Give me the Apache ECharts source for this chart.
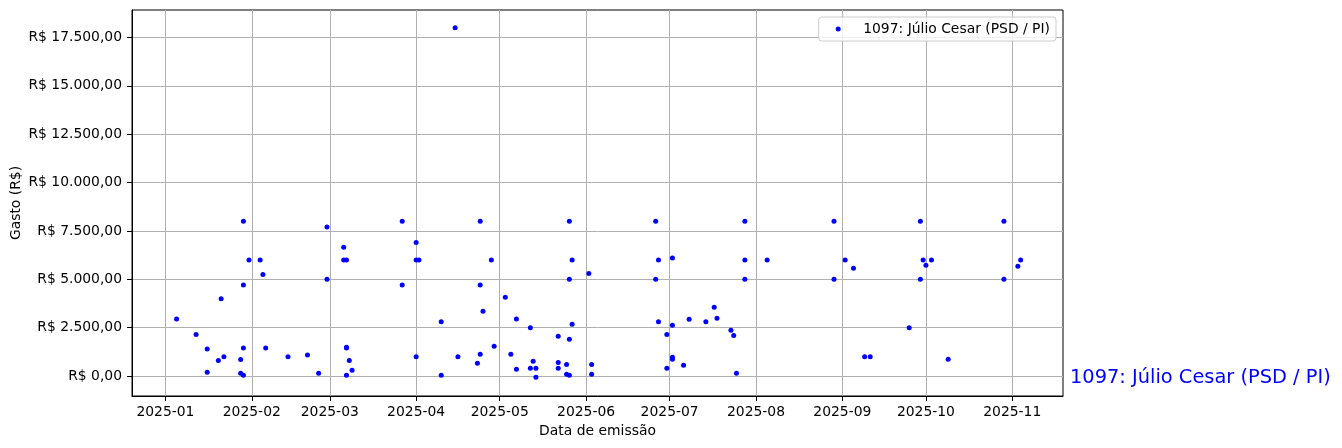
<!DOCTYPE html>
<html>
<head>
<meta charset="utf-8">
<script src="https://cdn.jsdelivr.net/npm/echarts@6/dist/echarts.min.js"></script>
<style>
html,body{margin:0;padding:0;background:#fff;}
#chart{width:1342px;height:448px;}
</style>
</head>
<body>
<div id="chart"></div>
<script>
// ---- data ----
const seriesName = '1097: Júlio Cesar (PSD / PI)';
const dates = [
 '2025-01-05','2025-01-12','2025-01-16','2025-01-16','2025-01-20','2025-01-22','2025-01-21','2025-01-28','2025-01-28','2025-01-29',
 '2025-01-29','2025-01-29','2025-01-29','2025-01-31','2025-02-04','2025-02-05','2025-02-06','2025-02-14','2025-02-21','2025-02-25',
 '2025-02-28','2025-02-28','2025-03-06','2025-03-06','2025-03-07','2025-03-07','2025-03-07','2025-03-07','2025-03-08','2025-03-09',
 '2025-03-27','2025-03-27','2025-04-01','2025-04-02','2025-04-01','2025-04-01','2025-04-10','2025-04-10','2025-04-15','2025-04-16',
 '2025-04-23','2025-04-24','2025-04-24','2025-04-24','2025-04-25','2025-04-28','2025-04-29','2025-05-03','2025-05-05','2025-05-07',
 '2025-05-07','2025-05-12','2025-05-12','2025-05-13','2025-05-14','2025-05-14','2025-05-22','2025-05-22','2025-05-22','2025-05-25',
 '2025-05-25','2025-05-26','2025-05-26','2025-05-26','2025-05-26','2025-05-27','2025-05-27','2025-06-02','2025-06-03','2025-06-03',
 '2025-06-26','2025-06-26','2025-06-27','2025-06-27','2025-06-30','2025-06-30','2025-07-02','2025-07-02','2025-07-02','2025-07-02',
 '2025-07-06','2025-07-08','2025-07-14','2025-07-17','2025-07-18','2025-07-23','2025-07-24','2025-07-25','2025-07-28','2025-07-28',
 '2025-07-28','2025-08-05','2025-08-29','2025-08-29','2025-09-02','2025-09-05','2025-09-09','2025-09-11','2025-09-25','2025-09-29',
 '2025-09-29','2025-09-30','2025-10-01','2025-10-03','2025-10-09','2025-10-29','2025-10-29','2025-11-04','2025-11-03'
];
const values = [
 2950,2150,1400,200,800,1000,4000,850,140,8000,
 4700,1450,40,6000,6000,5250,1450,1000,1080,140,
 7700,5000,6000,6650,6000,1480,1450,40,800,300,
 8000,4700,6000,6000,6900,1000,2800,40,18000,1000,
 660,8000,4700,1120,3350,6000,1540,4070,1120,2950,
 350,2500,400,760,400,-60,2050,700,400,600,
 90,8000,5000,1900,40,6000,2680,5300,600,90,
 8000,5000,6000,2800,2150,400,6100,2620,970,860,
 550,2930,2800,3550,2980,2360,2100,140,8000,6000,
 5000,6000,8000,5000,6000,5570,1000,1000,2500,8000,
 5000,6000,5720,6000,860,8000,5000,6000,5670
];
const xTickDates = ['2025-01-01','2025-02-01','2025-03-01','2025-04-01','2025-05-01','2025-06-01',
                    '2025-07-01','2025-08-01','2025-09-01','2025-10-01','2025-11-01'];
const yTicks = [0,2500,5000,7500,10000,12500,15000,17500];

// ---- helpers ----
function parseDay(s){ const p = s.split('-').map(Number); return new Date(p[0], p[1]-1, p[2]).getTime(); }
function brl(v){
  const neg = v < 0; const parts = Math.abs(v).toFixed(2).split('.');
  const intPart = parts[0].replace(/\B(?=(\d{3})+(?!\d))/g, '.');
  return 'R$ ' + (neg ? '-' : '') + intPart + ',' + parts[1];
}
function ym(t){ const d = new Date(t); return d.getFullYear() + '-' + String(d.getMonth()+1).padStart(2,'0'); }

const points = dates.map((d,i) => [parseDay(d), values[i]]);
const xTicks = xTickDates.map(parseDay);

const FONT = 'DejaVu Sans';
const chart = echarts.init(document.getElementById('chart'), null, {renderer:'canvas'});
chart.setOption({
  animation: false,
  backgroundColor: '#ffffff',
  textStyle: {fontFamily: FONT},
  grid: {left: 132, top: 10, width: 931, height: 386, containLabel: false, outerBoundsMode: 'none',
         show: true, borderColor: '#000', borderWidth: 1, backgroundColor: 'transparent'},
  legend: {
    data: [{name: seriesName, icon: 'circle'}],
    right: 286, top: 17,
    padding: [5, 6, 5, 17],
    itemWidth: 20, itemHeight: 5,
    backgroundColor: 'rgba(255,255,255,0.8)',
    borderColor: '#cccccc', borderWidth: 1, borderRadius: 3,
    textStyle: {fontFamily: FONT, fontSize: 13.9, color: '#000', padding: [0,0,0,10]}
  },
  xAxis: {
    type: 'value',
    min: new Date(2024, 11, 20).getTime(),
    max: new Date(2025, 10, 19, 5).getTime(),
    name: 'Data de emissão', nameLocation: 'middle', nameGap: 28,
    nameTextStyle: {fontFamily: FONT, fontSize: 13.9, color: '#000'},
    axisLine: {show: true, onZero: false, lineStyle: {color: '#000', width: 1}},
    axisTick: {show: true, length: 5, lineStyle: {color: '#000', width: 1}, customValues: xTicks},
    axisLabel: {show: true, margin: 9, fontFamily: FONT, fontSize: 13.9, color: '#000', customValues: xTicks, formatter: v => ym(v), hideOverlap: false, showMinLabel: true, showMaxLabel: true},
    splitLine: {show: true, lineStyle: {color: '#b0b0b0', width: 1}},
    minorTick: {show: false}
  },
  yAxis: {
    type: 'value',
    min: -1034, max: 18922,
    name: 'Gasto (R$)', nameLocation: 'middle', nameGap: 109, nameMoveOverlap: false,
    nameTextStyle: {fontFamily: FONT, fontSize: 13.9, color: '#000'},
    axisLine: {show: true, onZero: false, lineStyle: {color: '#000', width: 1}},
    axisTick: {show: true, length: 5, lineStyle: {color: '#000', width: 1}, customValues: yTicks},
    axisLabel: {show: true, margin: 10, fontFamily: FONT, fontSize: 13.9, color: '#000', customValues: yTicks, formatter: v => brl(v)},
    splitLine: {show: true, lineStyle: {color: '#b0b0b0', width: 1}}
  },
  series: [{
    name: seriesName,
    type: 'scatter',
    data: points,
    symbol: 'circle',
    symbolSize: 5,
    itemStyle: {color: '#0000ff', opacity: 1},
    emphasis: {disabled: true}
  }],
  graphic: [{
    type: 'text',
    left: 1070, top: 368,
    style: {text: seriesName, fill: '#0000ff', fontFamily: FONT, fontSize: 19.4}
  }]
});
</script>
</body>
</html>
